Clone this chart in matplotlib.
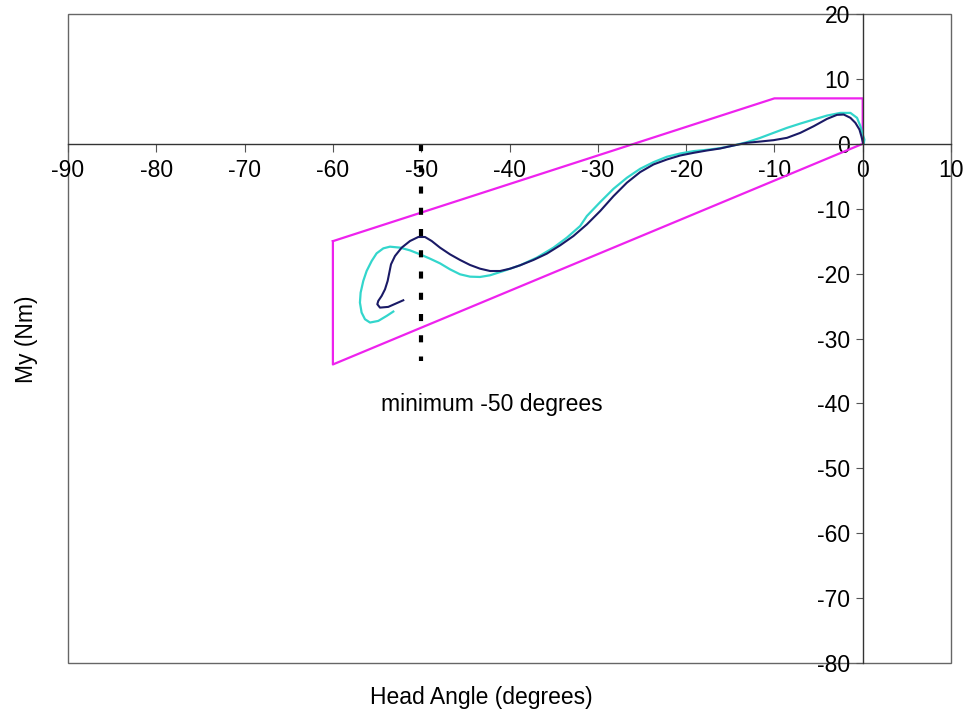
import matplotlib
matplotlib.use("Agg")
import matplotlib.pyplot as plt

plt.rcParams['font.family'] = ['Liberation Sans', 'DejaVu Sans']
plt.rcParams['axes.unicode_minus'] = False

# envelope corridor (head angle, My)
env_x = [-60, -10, 0, 0, -60, -60]
env_y = [-15, 7, 7, 0, -34, -15]

# test 1 (dark)
t1_x = [-52.03, -53.73, -54.67, -54.97, -54.86, -54.48, -54.10, -53.80, -53.61, -53.42,
        -52.97, -52.21, -51.27, -50.33, -49.57, -48.81, -47.87, -46.74, -45.60, -44.47,
        -43.34, -42.20, -41.07, -39.93, -38.80, -37.29, -35.78, -34.27, -32.76, -31.24,
        -29.73, -28.22, -26.71, -25.20, -23.69, -22.18, -20.66, -19.15, -17.64, -16.13,
        -14.62, -13.11, -11.60, -10.09, -8.57, -7.06, -5.55, -4.04, -2.91, -2.15,
        -1.39, -0.83, -0.37, -0.15, 0.04]
t1_y = [-24.11, -25.13, -25.24, -24.72, -24.21, -23.44, -22.42, -21.13, -19.85, -18.57,
        -17.29, -16.00, -14.98, -14.36, -14.36, -14.98, -16.00, -17.03, -17.90, -18.67,
        -19.24, -19.60, -19.60, -19.24, -18.72, -17.90, -16.93, -15.65, -14.21, -12.42,
        -10.36, -8.06, -6.00, -4.36, -3.18, -2.42, -1.80, -1.39, -1.03, -0.72,
        -0.26, 0.15, 0.35, 0.56, 0.92, 1.69, 2.71, 3.84, 4.46, 4.51,
        4.00, 3.23, 2.20, 1.17, 0.15]

# test 2 (cyan)
t2_x = [-53.16, -53.91, -54.86, -55.80, -56.37, -56.75, -56.94, -56.86, -56.56, -56.18,
        -55.61, -55.05, -54.29, -53.54, -52.40, -51.27, -50.13, -49.00, -47.87, -46.74,
        -45.60, -44.47, -43.34, -42.20, -40.69, -38.80, -36.91, -35.02, -33.51, -32.00,
        -31.24, -29.73, -28.22, -26.71, -25.20, -23.69, -22.18, -20.66, -19.15, -17.64,
        -16.13, -14.62, -13.11, -11.60, -10.09, -8.57, -7.06, -5.55, -4.04, -2.53,
        -1.39, -0.64, -0.26, 0.00, 0.19, 0.12]
t2_y = [-25.85, -26.52, -27.29, -27.54, -27.03, -26.00, -24.47, -22.93, -21.13, -19.60,
        -18.06, -16.88, -16.11, -15.85, -16.00, -16.42, -17.03, -17.70, -18.42, -19.34,
        -20.11, -20.47, -20.52, -20.26, -19.60, -18.72, -17.54, -16.00, -14.47, -12.67,
        -11.13, -8.98, -6.93, -5.24, -3.85, -2.83, -2.00, -1.49, -1.13, -0.93,
        -0.67, -0.26, 0.25, 0.92, 1.69, 2.46, 3.12, 3.74, 4.35, 4.76,
        4.76, 4.00, 2.71, 1.43, 0.66, 0.05]

min_angle = -50
min_line_y = [0, -33.5]

x_ticks = list(range(-90, 11, 10))
y_ticks = list(range(-80, 21, 10))

fig = plt.figure(figsize=(9.67, 7.13), dpi=100)
ax = fig.add_axes([68 / 967, 50 / 713, 883 / 967, 649 / 713])

ax.plot(env_x, env_y, color='#ee22ee', lw=1.6)
ax.plot(t2_x, t2_y, color='#33d6cc', lw=1.6)
ax.plot(t1_x, t1_y, color='#1a1a66', lw=1.5)
ax.plot([min_angle, min_angle], min_line_y, color='black', lw=3,
        linestyle=(0, (1.7, 3.4)), solid_capstyle='butt')
ax.text(-42, -41.1, 'minimum -50 degrees', ha='center', va='baseline', fontsize=16.5)

ax.set_xlim(-90, 10)
ax.set_ylim(-80, 20)
ax.set_xticks(x_ticks)
ax.set_yticks(y_ticks)

# axes cross at the origin, plot area framed in grey
ax.spines['left'].set_position(('data', 0))
ax.spines['bottom'].set_position(('data', 0))
ax.spines['top'].set_visible(False)
ax.spines['right'].set_visible(False)
for s in ('left', 'bottom'):
    ax.spines[s].set_color('#333333')
    ax.spines[s].set_linewidth(1.0)
ax.patch.set_edgecolor('#666666')
ax.patch.set_linewidth(1.0)

ax.tick_params(axis='x', direction='out', length=6, width=0.8, pad=5,
               labelsize=16.5, color='#555555')
ax.tick_params(axis='y', direction='out', length=5, width=0.8, pad=4,
               labelsize=16.5, color='#555555')

fig.text(481 / 967, 1 - 704 / 713, 'Head Angle (degrees)', ha='center',
         va='baseline', fontsize=16.5)
fig.text(26 / 967, 1 - 339 / 713, 'My (Nm)', ha='center', va='center',
         rotation=90, fontsize=16.5)

fig.savefig('out.png', dpi=100)
